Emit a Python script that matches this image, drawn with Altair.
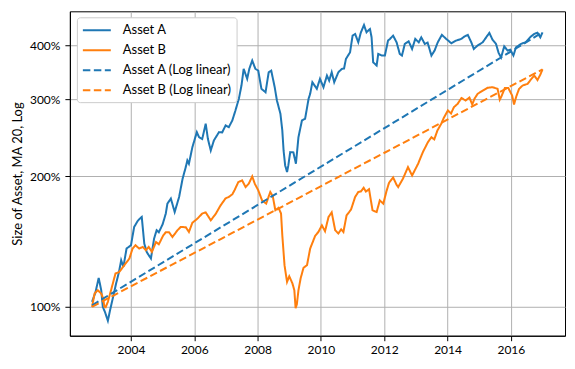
import altair as alt
import pandas as pd

# Asset A (decimal year, % of start)
years_a = [2002.77, 2002.88, 2002.98, 2003.06, 2003.11, 2003.18, 2003.27, 2003.34, 2003.40, 2003.53,
           2003.62, 2003.69, 2003.76, 2003.86, 2004.00, 2004.10, 2004.21, 2004.27, 2004.34, 2004.42,
           2004.50, 2004.58, 2004.63, 2004.73, 2004.81, 2004.88, 2005.00, 2005.10, 2005.15, 2005.26,
           2005.38, 2005.52, 2005.63, 2005.73, 2005.78, 2005.83, 2005.94, 2006.08, 2006.15, 2006.25,
           2006.36, 2006.43, 2006.52, 2006.62, 2006.78, 2006.88, 2006.99, 2007.09, 2007.20, 2007.30,
           2007.41, 2007.49, 2007.56, 2007.67, 2007.74, 2007.83, 2007.93, 2008.02, 2008.12, 2008.25,
           2008.35, 2008.43, 2008.54, 2008.61, 2008.72, 2008.78, 2008.82, 2008.87, 2008.93, 2008.97,
           2009.03, 2009.13, 2009.21, 2009.29, 2009.40, 2009.50, 2009.61, 2009.66, 2009.73, 2009.87,
           2009.97, 2010.08, 2010.19, 2010.26, 2010.34, 2010.42, 2010.55, 2010.66, 2010.73, 2010.79,
           2010.92, 2011.00, 2011.08, 2011.18, 2011.26, 2011.36, 2011.44, 2011.49, 2011.55, 2011.60,
           2011.65, 2011.76, 2011.81, 2011.92, 2012.02, 2012.12, 2012.18, 2012.28, 2012.39, 2012.49,
           2012.56, 2012.65, 2012.77, 2012.88, 2012.98, 2013.09, 2013.17, 2013.28, 2013.37, 2013.49,
           2013.59, 2013.69, 2013.82, 2013.96, 2014.12, 2014.27, 2014.43, 2014.53, 2014.64, 2014.75,
           2014.83, 2014.95, 2015.11, 2015.22, 2015.32, 2015.42, 2015.53, 2015.61, 2015.69, 2015.79,
           2015.90, 2015.98, 2016.08, 2016.16, 2016.32, 2016.47, 2016.63, 2016.74, 2016.84, 2016.93,
           2017.00]
vals_a = [102.7, 108.1, 116.6, 109.2, 100.0, 97.2, 92.9, 98.3, 102.7, 113.2,
          120.2, 128.0, 123.6, 136.2, 138.6, 152.7, 157.6, 159.4, 161.0, 139.8,
          133.6, 130.8, 129.2, 143.6, 150.1, 148.5, 154.9, 164.0, 172.8, 177.5,
          165.3, 179.0, 197.2, 209.7, 217.3, 213.5, 233.2, 252.4, 245.8, 243.4,
          263.9, 243.4, 229.1, 241.7, 252.4, 252.0, 261.7, 259.2, 268.5, 283.2,
          301.8, 323.2, 353.0, 334.9, 353.6, 368.9, 353.0, 349.8, 317.6, 311.9,
          346.7, 349.8, 320.3, 298.5, 278.3, 254.7, 229.1, 211.6, 204.3, 211.6,
          227.1, 226.7, 213.5, 245.8, 268.5, 271.0, 301.3, 309.3, 328.9, 317.6,
          334.9, 320.3, 340.7, 331.8, 346.7, 328.9, 346.7, 353.0, 353.6, 372.2,
          385.4, 421.1, 424.9, 406.4, 427.8, 445.5, 428.5, 432.2, 436.0, 417.3,
          365.6, 359.3, 382.2, 378.9, 378.9, 410.1, 413.7, 421.1, 406.4, 382.2,
          378.9, 403.0, 408.6, 392.4, 413.7, 406.4, 417.3, 403.0, 405.8, 378.9,
          388.9, 406.4, 422.7, 413.7, 404.3, 410.1, 413.7, 418.9, 422.7, 406.4,
          392.4, 399.6, 406.4, 417.3, 427.1, 412.2, 403.0, 384.8, 374.8, 397.7,
          388.9, 390.9, 378.9, 395.6, 403.0, 406.8, 418.9, 424.9, 427.8, 417.3,
          428.5]

# Asset B (decimal year, % of start)
years_b = [2002.77, 2002.85, 2002.95, 2003.06, 2003.12, 2003.16, 2003.20, 2003.27, 2003.37, 2003.51,
           2003.63, 2003.79, 2003.95, 2004.05, 2004.14, 2004.26, 2004.37, 2004.47, 2004.56, 2004.66,
           2004.79, 2004.88, 2005.02, 2005.10, 2005.20, 2005.31, 2005.47, 2005.57, 2005.73, 2005.83,
           2005.94, 2006.10, 2006.25, 2006.36, 2006.52, 2006.67, 2006.83, 2006.99, 2007.09, 2007.20,
           2007.27, 2007.39, 2007.51, 2007.62, 2007.72, 2007.83, 2007.91, 2008.02, 2008.14, 2008.27,
           2008.40, 2008.48, 2008.56, 2008.66, 2008.74, 2008.78, 2008.85, 2008.93, 2009.00, 2009.10,
           2009.16, 2009.20, 2009.24, 2009.29, 2009.36, 2009.45, 2009.56, 2009.66, 2009.82, 2009.92,
           2010.03, 2010.13, 2010.24, 2010.34, 2010.45, 2010.55, 2010.64, 2010.71, 2010.81, 2010.95,
           2011.08, 2011.18, 2011.26, 2011.35, 2011.42, 2011.52, 2011.63, 2011.76, 2011.86, 2011.97,
           2012.07, 2012.15, 2012.28, 2012.39, 2012.44, 2012.59, 2012.75, 2012.88, 2013.07, 2013.22,
           2013.38, 2013.49, 2013.58, 2013.68, 2013.80, 2013.88, 2014.01, 2014.11, 2014.20, 2014.32,
           2014.44, 2014.57, 2014.69, 2014.78, 2014.85, 2014.95, 2015.11, 2015.26, 2015.42, 2015.58,
           2015.65, 2015.70, 2015.81, 2015.92, 2016.04, 2016.10, 2016.17, 2016.26, 2016.37, 2016.53,
           2016.63, 2016.74, 2016.84, 2016.93, 2017.00]
vals_b = [100.0, 107.3, 109.2, 107.3, 104.7, 100.0, 99.8, 102.7, 109.2, 119.3,
          120.3, 124.7, 129.2, 136.2, 138.6, 136.2, 137.4, 135.0, 137.4, 133.8,
          141.0, 139.3, 146.1, 148.5, 148.5, 144.8, 150.1, 152.7, 152.5, 148.7,
          156.2, 159.6, 164.0, 165.0, 158.2, 163.4, 171.2, 177.8, 179.0, 181.6,
          185.5, 193.7, 195.5, 188.7, 192.1, 199.6, 192.1, 185.5, 175.8, 172.8,
          183.8, 179.6, 166.8, 169.0, 164.0, 146.1, 124.7, 114.1, 117.6, 113.2,
          109.2, 99.3, 101.4, 109.2, 116.4, 123.0, 124.7, 136.2, 145.8, 148.7,
          154.0, 149.3, 161.0, 165.0, 150.1, 147.5, 150.8, 148.7, 162.4, 167.4,
          179.0, 183.8, 184.3, 187.9, 184.3, 186.5, 166.8, 165.3, 175.8, 172.8,
          184.5, 192.9, 198.6, 190.9, 188.7, 197.2, 209.7, 200.6, 213.5, 227.1,
          239.4, 245.8, 242.9, 254.7, 263.9, 272.1, 283.2, 278.7, 288.1, 293.4,
          302.5, 298.5, 303.3, 292.3, 301.3, 309.3, 314.5, 319.3, 320.3, 317.6,
          299.9, 304.9, 318.9, 318.9, 306.5, 292.3, 304.9, 317.6, 323.2, 326.1,
          333.5, 340.7, 332.7, 342.4, 352.1]

# Log-linear trend lines (start and end)
fit_years = [2002.77, 2017.00]
fit_a = [100.8, 428.5]
fit_b = [100.0, 352.0]

names = ["Asset A", "Asset B", "Asset A (Log linear)", "Asset B (Log linear)"]
colors = ["#1f77b4", "#ff7f0e", "#1f77b4", "#ff7f0e"]
dashes = [[1, 0], [1, 0], [7.5, 3.5], [7.5, 3.5]]

rows = []
for i, (x, v) in enumerate(zip(years_a, vals_a)):
    rows.append({"year": x, "value": v, "series": names[0], "o": i})
for i, (x, v) in enumerate(zip(years_b, vals_b)):
    rows.append({"year": x, "value": v, "series": names[1], "o": i})
for i, (x, v) in enumerate(zip(fit_years, fit_a)):
    rows.append({"year": x, "value": v, "series": names[2], "o": i})
for i, (x, v) in enumerate(zip(fit_years, fit_b)):
    rows.append({"year": x, "value": v, "series": names[3], "o": i})
df = pd.DataFrame(rows)

FONT = "Lato"

x_enc = alt.X("year:Q",
              scale=alt.Scale(domain=[2002.07, 2017.71], nice=False, zero=False),
              axis=alt.Axis(values=[2004, 2006, 2008, 2010, 2012, 2014, 2016], format="d",
                            title=None, labelPadding=4))
y_enc = alt.Y("value:Q",
              scale=alt.Scale(type="log", domain=[85.8, 479], nice=False),
              axis=alt.Axis(values=[100, 200, 300, 400], labelExpr="datum.value + '%'",
                            title="Size of Asset, MA 20, Log", labelPadding=5,
                            titlePadding=5))
color_enc = alt.Color("series:N",
                      scale=alt.Scale(domain=names, range=colors),
                      legend=alt.Legend(title=None, orient="none", legendX=7, legendY=6,
                                        symbolType="M-1,0L3,0", symbolSize=196,
                                        symbolStrokeWidth=2, labelFont=FONT,
                                        labelFontSize=13, labelColor="black",
                                        labelOffset=25, rowPadding=5, padding=5,
                                        fillColor="white", strokeColor="#cccccc",
                                        cornerRadius=3))
dash_enc = alt.StrokeDash("series:N", scale=alt.Scale(domain=names, range=dashes))

base = alt.Chart(df).mark_line(strokeWidth=2, clip=True).encode(
    x=x_enc, y=y_enc, color=color_enc, strokeDash=dash_enc, order="o:Q"
)

chart = base.properties(
    width=496, height=325,
    autosize=alt.AutoSizeParams(type="none"),
    padding={"left": 62, "top": 3, "right": 2, "bottom": 20},
).configure_axis(
    labelFont=FONT, labelFontSize=12, labelColor="black",
    titleFont=FONT, titleFontSize=13, titleColor="black", titleFontWeight="normal",
    tickColor="black", tickSize=5, tickWidth=1, domainColor="black", domainWidth=1,
    gridColor="#b0b0b0", gridWidth=1, gridOpacity=1,
).configure_view(
    stroke="black", strokeWidth=1
)

chart.save("out.html", embed_options={"renderer": "svg", "actions": False})
